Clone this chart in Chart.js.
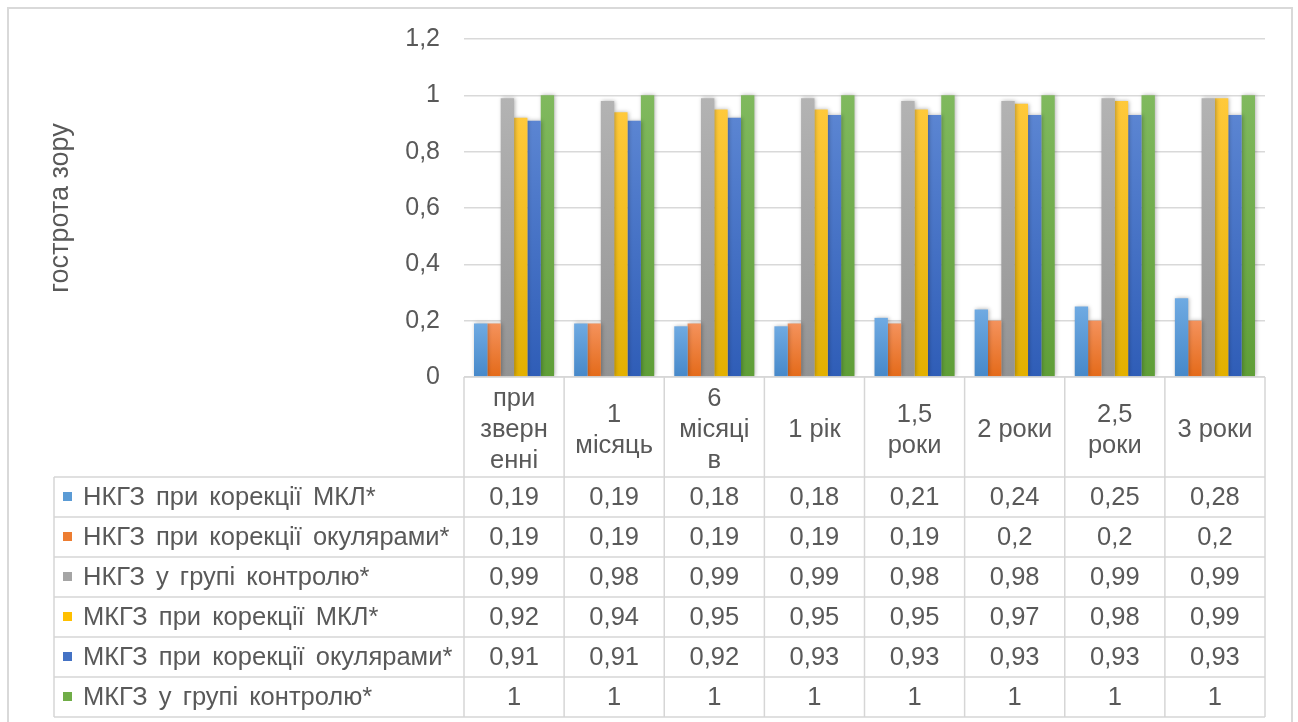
<!DOCTYPE html>
<html>
<head>
<meta charset="utf-8">
<title>Гострота зору</title>
<script src="https://cdn.jsdelivr.net/npm/chart.js@4/dist/chart.umd.min.js"></script>
<style>
  html, body { margin: 0; padding: 0; background: #fff; }
  #wrap { width: 1298px; height: 722px; }
</style>
</head>
<body>
<div id="wrap"><canvas id="visus_chart" width="1298" height="722"></canvas></div>
<script>
// categories (multi-line labels as they appear in the table header)
var periods = [['при', 'зверн', 'енні'], ['1', 'місяць'], ['6', 'місяці', 'в'], ['1 рік'],
               ['1,5', 'роки'], ['2 роки'], ['2,5', 'роки'], ['3 роки']];

var seriesNames = ['НКГЗ при корекції МКЛ*', 'НКГЗ при корекції окулярами*', 'НКГЗ у групі контролю*',
                   'МКГЗ при корекції МКЛ*', 'МКГЗ при корекції окулярами*', 'МКГЗ у групі контролю*'];

var nkgzMkl       = [0.19, 0.19, 0.18, 0.18, 0.21, 0.24, 0.25, 0.28];
var nkgzGlasses   = [0.19, 0.19, 0.19, 0.19, 0.19, 0.2, 0.2, 0.2];
var nkgzControl   = [0.99, 0.98, 0.99, 0.99, 0.98, 0.98, 0.99, 0.99];
var mkgzMkl       = [0.92, 0.94, 0.95, 0.95, 0.95, 0.97, 0.98, 0.99];
var mkgzGlasses   = [0.91, 0.91, 0.92, 0.93, 0.93, 0.93, 0.93, 0.93];
var mkgzControl   = [1, 1, 1, 1, 1, 1, 1, 1];

var yTickLabels = ['0', '0,2', '0,4', '0,6', '0,8', '1', '1,2'];
var yTitle = 'гострота зору';

// styles: base colour + gradient stops (top, bottom)
var baseColors = ['#5B9BD5', '#ED7D31', '#A5A5A5', '#FFC000', '#4472C4', '#70AD47'];
var topColors = ['#6faae2', '#f4925c', '#b3b3b3', '#ffc93a', '#5b85d2', '#80b95e'];
var bottomColors = ['#4688c9', '#e46a19', '#939393', '#e3b000', '#2f5db7', '#5f9e37'];

var FONT = '"Liberation Sans", Arial, sans-serif';
var TEXT = '#595959';
var LINE = '#d6d6d6';

function fmt(v) {
    return String(v).replace('.', ',');
}

function barFill(i) {
    return function (c) {
        var chart = c.chart;
        if (!chart.chartArea || c.type !== 'data') { return baseColors[i]; }
        var y = chart.scales.y;
        var top = y.getPixelForValue(c.raw);
        var bottom = y.getPixelForValue(0);
        if (!isFinite(top) || bottom - top < 1) { return baseColors[i]; }
        var g = chart.ctx.createLinearGradient(0, top, 0, bottom);
        g.addColorStop(0, topColors[i]);
        g.addColorStop(1, bottomColors[i]);
        return g;
    };
}

var allSeries = [nkgzMkl, nkgzGlasses, nkgzControl, mkgzMkl, mkgzGlasses, mkgzControl];
var datasets = allSeries.map(function (vals, i) {
    return {
        label: seriesNames[i],
        data: vals,
        backgroundColor: barFill(i),
        borderWidth: 0,
        categoryPercentage: 0.8,
        barPercentage: 1.0
    };
});

// white background + outer frame
var framePlugin = {
    id: 'frame',
    beforeDraw: function (chart) {
        var ctx = chart.ctx;
        ctx.save();
        ctx.fillStyle = '#fff';
        ctx.fillRect(0, 0, chart.width, chart.height);
        ctx.strokeStyle = '#d9d9d9';
        ctx.lineWidth = 2;
        ctx.strokeRect(8, 8, 1284, 740);
        ctx.restore();
    }
};

// soft shadow on bars
var shadowPlugin = {
    id: 'barShadow',
    beforeDatasetsDraw: function (chart) {
        var ctx = chart.ctx;
        ctx.save();
        ctx.shadowColor = 'rgba(0,0,0,0.3)';
        ctx.shadowBlur = 4;
        ctx.shadowOffsetX = 1;
        ctx.shadowOffsetY = 0;
    },
    afterDatasetsDraw: function (chart) {
        chart.ctx.restore();
    }
};

// data table under the plot, columns follow the x scale
var dataTablePlugin = {
    id: 'dataTable',
    afterDraw: function (chart) {
        var ctx = chart.ctx;
        var xs = chart.scales.x;
        var area = chart.chartArea;
        var n = periods.length;
        var colW = (area.right - area.left) / n;
        var top = xs.top;
        var bottom = xs.bottom;
        var headH = 100;
        var ds = chart.data.datasets;
        var rowH = (bottom - top - headH) / ds.length;
        var legendLeft = 54;
        var i, j, y;

        ctx.save();
        ctx.strokeStyle = LINE;
        ctx.lineWidth = 1.5;
        ctx.beginPath();
        // header row top
        ctx.moveTo(area.left, top);
        ctx.lineTo(area.right, top);
        // body rows
        for (j = 0; j <= ds.length; j++) {
            y = top + headH + j * rowH;
            ctx.moveTo(legendLeft, y);
            ctx.lineTo(area.right, y);
        }
        ctx.moveTo(legendLeft, top + headH);
        ctx.lineTo(legendLeft, bottom);
        for (i = 0; i <= n; i++) {
            var x = area.left + i * colW;
            ctx.moveTo(x, top);
            ctx.lineTo(x, bottom);
        }
        ctx.stroke();

        ctx.fillStyle = TEXT;
        ctx.font = '25.5px ' + FONT;
        ctx.textAlign = 'center';
        ctx.textBaseline = 'middle';

        // header: period names
        var lh = 31;
        for (i = 0; i < n; i++) {
            var cx = xs.getPixelForValue(i);
            var lines = periods[i];
            var y0 = top + headH / 2 + 3 - (lines.length - 1) * lh / 2;
            for (var k = 0; k < lines.length; k++) {
                ctx.fillText(lines[k], cx, y0 + k * lh);
            }
        }

        // body: legend keys, names, values
        for (j = 0; j < ds.length; j++) {
            var cy = top + headH + j * rowH + rowH / 2;
            ctx.fillStyle = baseColors[j];
            ctx.fillRect(63, cy - 5, 9, 9);
            ctx.fillStyle = TEXT;
            ctx.textAlign = 'left';
            ctx.wordSpacing = '4px';
            ctx.fillText(ds[j].label, 83, cy + 1);
            ctx.wordSpacing = '0px';
            ctx.textAlign = 'center';
            for (i = 0; i < n; i++) {
                ctx.fillText(fmt(ds[j].data[i]), xs.getPixelForValue(i), cy + 1);
            }
        }
        ctx.restore();
    }
};

var ctx = document.getElementById('visus_chart').getContext('2d');
var visusChart = new Chart(ctx, {
    type: 'bar',
    data: {
        labels: periods.map(function (p) { return p.join(' '); }),
        datasets: datasets
    },
    plugins: [framePlugin, shadowPlugin, dataTablePlugin],
    options: {
        responsive: false,
        animation: false,
        devicePixelRatio: 1,
        layout: { padding: { left: 20, right: 33, top: 37, bottom: 5 } },
        plugins: {
            legend: { display: false },
            tooltip: { enabled: false }
        },
        scales: {
            x: {
                ticks: { display: false },
                grid: { display: false },
                border: { display: false },
                afterFit: function (scale) { scale.height = 340; }
            },
            y: {
                min: 0,
                max: 1.2,
                ticks: {
                    stepSize: 0.2,
                    color: TEXT,
                    padding: 24,
                    font: { family: FONT, size: 25 },
                    callback: function (value, index) { return yTickLabels[index]; }
                },
                grid: { color: '#d9d9d9', lineWidth: 1.5, drawTicks: false },
                border: { display: false },
                title: {
                    display: true,
                    text: yTitle,
                    color: TEXT,
                    font: { family: FONT, size: 27 },
                    padding: { top: 24, bottom: 0 }
                },
                afterFit: function (scale) { scale.width = 444; }
            }
        }
    }
});
</script>
</body>
</html>
